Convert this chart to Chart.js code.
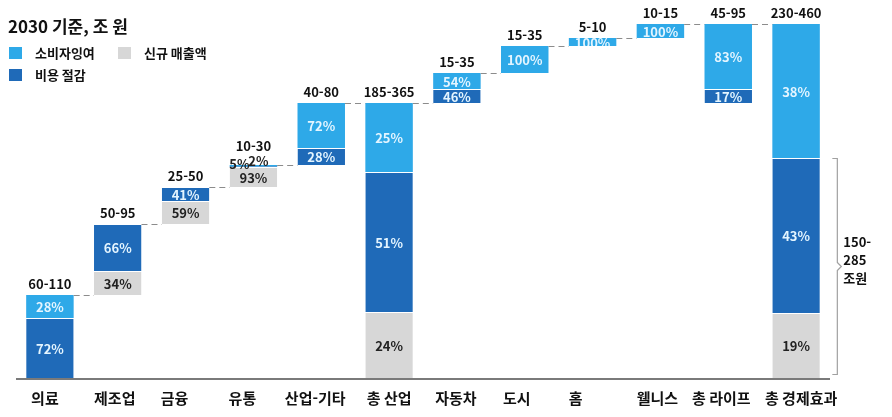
<!DOCTYPE html>
<html lang="ko">
<head>
<meta charset="utf-8">
<script src="https://cdn.jsdelivr.net/npm/chart.js@4.4.1/dist/chart.umd.min.js"></script>
<style>
  html, body { margin: 0; padding: 0; background: #fff; }
  #wrap { position: relative; width: 892px; height: 417px; }
</style>
</head>
<body>
<div id="wrap"><canvas id="chart" width="892" height="417"></canvas></div>
<script>
// categories and the range shown above each bar (조 원)
const categories = ['의료', '제조업', '금융', '유통', '산업-기타', '총 산업', '자동차', '도시', '홈', '웰니스', '총 라이프', '총 경제효과'];
const rangeLabels = ['60-110', '50-95', '25-50', '10-30', '40-80', '185-365', '15-35', '15-35', '5-10', '10-15', '45-95', '230-460'];
// step = adds to the running total, sub = subtotal of its group, total = grand total
const kinds = ['step', 'step', 'step', 'step', 'step', 'sub', 'step', 'step', 'step', 'step', 'sub', 'total'];

// segment sizes
const newRevenue      = [0, 24, 23, 20, 0, 66, 0, 0, 0, 0, 0, 65];
const costSaving      = [60, 47, 14, 0.5, 17, 140, 14, 0, 0, 0, 14, 155];
const consumerSurplus = [23, 0, 0, 1.5, 45, 69, 16, 27, 8, 14, 65, 134];

// share labels printed in each segment
const revenuePct  = ['', '34%', '59%', '93%', '', '24%', '', '', '', '', '', '19%'];
const costPct     = ['72%', '66%', '41%', '2%', '28%', '51%', '46%', '', '', '', '17%', '43%'];
const surplusPct  = ['28%', '', '', '5%', '72%', '25%', '54%', '100%', '100%', '100%', '83%', '38%'];

const bracketLines = ['150-', '285', '조원'];

const FONT = '"Noto Sans CJK KR", "Noto Sans", sans-serif';
const LIGHT = '#2EA9E8';
const DARK = '#1F6AB8';
const GREY = '#D7D7D7';
const BAR_PCT = 0.7;
// small horizontal nudges of the category names (they sit a bit off-centre in the source)
const nameNudge = [-5, -3, -11, -11, -6, 0, -1, -8, -17, -3, -7, 5];

// waterfall: where each bar starts
const totals = categories.map((c, i) => newRevenue[i] + costSaving[i] + consumerSurplus[i]);
const starts = [];
let running = 0, groupStart = 0;
kinds.forEach((k, i) => {
  if (k === 'step') { starts.push(running); running += totals[i]; }
  else if (k === 'sub') { starts.push(groupStart); groupStart = running; }
  else starts.push(0);
});

function floating(values, below) {
  return values.map((v, i) => v ? [starts[i] + below(i), starts[i] + below(i) + v] : null);
}
const greyBars = floating(newRevenue, i => 0);
const darkBars = floating(costSaving, i => newRevenue[i]);
const lightBars = floating(consumerSurplus, i => newRevenue[i] + costSaving[i]);

const yMax = Math.max(...totals.map((t, i) => starts[i] + t));

const decor = {
  id: 'decor',
  afterDatasetsDraw(chart) {
    const ctx = chart.ctx;
    const xs = chart.scales.x, ys = chart.scales.y;
    const area = chart.chartArea;
    const step = xs.getPixelForValue(1) - xs.getPixelForValue(0);
    const half = step * BAR_PCT / 2;
    const topPx = i => ys.getPixelForValue(starts[i] + totals[i]);

    ctx.save();

    // dashed connectors between bars
    ctx.strokeStyle = '#8c8c8c';
    ctx.lineWidth = 1;
    ctx.setLineDash([6, 4]);
    for (let i = 0; i < categories.length - 1; i++) {
      const y = Math.round(topPx(i)) + 0.5;
      ctx.beginPath();
      ctx.moveTo(xs.getPixelForValue(i) + half, y);
      ctx.lineTo(xs.getPixelForValue(i + 1) - half, y);
      ctx.stroke();
    }
    ctx.setLineDash([]);

    // percent labels inside the segments
    ctx.textAlign = 'center';
    ctx.textBaseline = 'middle';
    ctx.font = 'bold 13px ' + FONT;
    chart.data.datasets.forEach((ds, d) => {
      const meta = chart.getDatasetMeta(d);
      meta.data.forEach((el, i) => {
        const txt = ds.pct[i];
        if (!txt || !ds.data[i]) return;
        const t = Math.min(el.y, el.base), b = Math.max(el.y, el.base);
        if (b - t < 4) {
          // segments too thin: the label sits above the bar
          ctx.fillStyle = '#222';
          const dx = d === 2 ? -14 : 5;
          const dy = d === 2 ? -1 : -4;
          ctx.fillText(txt, el.x + dx, topPx(i) + dy);
          return;
        }
        ctx.save();
        ctx.beginPath();
        ctx.rect(el.x - half, t, half * 2, b - t);
        ctx.clip();
        ctx.fillStyle = ds.textColor;
        ctx.fillText(txt, el.x, (t + b) / 2 + 1);
        ctx.restore();
      });
    });

    // range labels above bars
    ctx.font = 'bold 13px ' + FONT;
    ctx.fillStyle = '#111';
    categories.forEach((c, i) => {
      const tiny = costSaving[i] > 0 && costSaving[i] < 2;
      ctx.fillText(rangeLabels[i], xs.getPixelForValue(i), topPx(i) - (tiny ? 19 : 11));
    });

    // baseline
    ctx.strokeStyle = '#7a7a7a';
    ctx.lineWidth = 2;
    ctx.beginPath();
    ctx.moveTo(area.left, area.bottom + 1);
    ctx.lineTo(area.right, area.bottom + 1);
    ctx.stroke();

    // category names
    ctx.font = 'bold 15px ' + FONT;
    ctx.fillStyle = '#111';
    categories.forEach((c, i) => {
      ctx.fillText(c, xs.getPixelForValue(i) + nameNudge[i], area.bottom + 20);
    });

    // bracket on the grand total (cost saving + new revenue)
    const last = categories.length - 1;
    const bTop = Math.round(ys.getPixelForValue(newRevenue[last] + costSaving[last])) + 0.5;
    const bBot = area.bottom - 3.5;
    const bx = xs.getPixelForValue(last) + half + 17.5;
    const bMid = (bTop + bBot) / 2;
    ctx.strokeStyle = '#a0a0a0';
    ctx.lineWidth = 1.2;
    ctx.beginPath();
    ctx.moveTo(bx - 5, bTop);
    ctx.lineTo(bx, bTop);
    ctx.lineTo(bx, bMid - 4);
    ctx.lineTo(bx + 4, bMid);
    ctx.lineTo(bx, bMid + 4);
    ctx.lineTo(bx, bBot);
    ctx.lineTo(bx - 5, bBot);
    ctx.stroke();
    ctx.font = 'bold 13px ' + FONT;
    ctx.fillStyle = '#111';
    ctx.textAlign = 'left';
    bracketLines.forEach((t, k) => {
      ctx.fillText(t, bx + 6, bMid - 24 + k * 18);
    });

    // title and legend
    ctx.textAlign = 'left';
    ctx.font = 'bold 17px ' + FONT;
    ctx.fillText('2030 기준, 조 원', 8, 27);
    const legend = [
      { color: LIGHT, text: '소비자잉여', x: 9, y: 47 },
      { color: GREY, text: '신규 매출액', x: 118, y: 47 },
      { color: DARK, text: '비용 절감', x: 9, y: 69 }
    ];
    ctx.font = 'bold 13px ' + FONT;
    legend.forEach(l => {
      ctx.fillStyle = l.color;
      ctx.fillRect(l.x, l.y, 13, 12);
      ctx.fillStyle = '#111';
      ctx.fillText(l.text, l.x + 26, l.y + 6);
    });

    ctx.restore();
  }
};

const borderFor = ctx => {
  const raw = ctx.raw;
  if (!raw || ctx.datasetIndex === 2) return 0;
  return (raw[1] - raw[0]) > 4 ? { top: 1, right: 0, bottom: 0, left: 0 } : 0;
};

new Chart(document.getElementById('chart'), {
  type: 'bar',
  data: {
    labels: categories,
    datasets: [
      { label: '신규 매출액', data: greyBars, backgroundColor: GREY, pct: revenuePct, textColor: '#222', stack: 'w' },
      { label: '비용 절감', data: darkBars, backgroundColor: DARK, pct: costPct, textColor: '#E4F5FF', stack: 'w' },
      { label: '소비자잉여', data: lightBars, backgroundColor: LIGHT, pct: surplusPct, textColor: '#E4F5FF', stack: 'w' }
    ]
  },
  options: {
    responsive: false,
    animation: false,
    layout: { padding: { left: 16, right: 62, top: 24, bottom: 39 } },
    datasets: {
      bar: {
        barPercentage: BAR_PCT,
        categoryPercentage: 1,
        borderColor: '#ffffff',
        borderSkipped: false,
        borderWidth: borderFor
      }
    },
    scales: {
      x: { display: false, stacked: true },
      y: { display: false, stacked: false, min: 0, max: yMax }
    },
    plugins: {
      legend: { display: false },
      tooltip: { enabled: false }
    }
  },
  plugins: [decor]
});
</script>
</body>
</html>
